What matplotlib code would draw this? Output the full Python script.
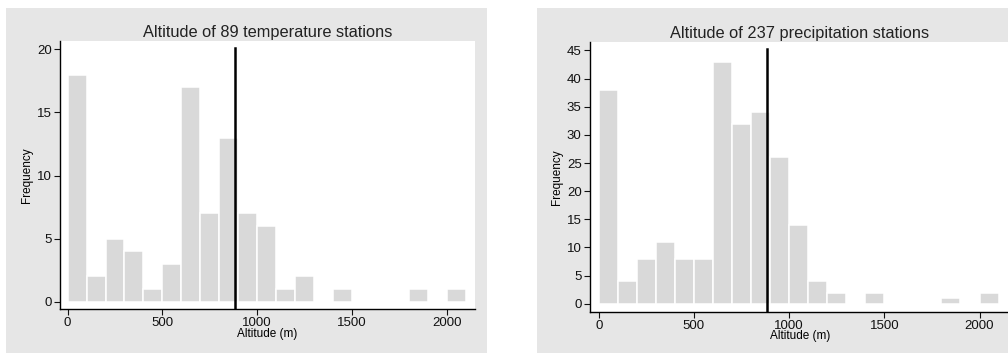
import matplotlib.pyplot as plt
from matplotlib.patches import Rectangle
import numpy as np

# bin left edges (100 m bins)
bin_edges = np.arange(0, 2100, 100)
temp_counts = [18, 2, 5, 4, 1, 3, 17, 7, 13, 7, 6, 1, 2, 0, 1, 0, 0, 0, 1, 0, 1]
prec_counts = [38, 4, 8, 11, 8, 8, 43, 32, 34, 26, 14, 4, 2, 0, 2, 0, 0, 0, 1, 0, 2]
mean_alt = 884
titles = ["Altitude of 89 temperature stations", "Altitude of 237 precipitation stations"]
yticks_l = [0, 5, 10, 15, 20]
yticks_r = [0, 5, 10, 15, 20, 25, 30, 35, 40, 45]
xticks = [0, 500, 1000, 1500, 2000]

plt.rcParams['font.family'] = ['Liberation Sans', 'DejaVu Sans']

W, H = 1008, 354
fig = plt.figure(figsize=(W / 100, H / 100), dpi=100)
fig.patch.set_facecolor('white')

# gray panel backgrounds (pixel coords -> figure fraction)
bg = '#e6e6e6'
for x0, x1 in [(6, 487), (537, 1030)]:
    fig.patches.append(Rectangle((x0 / W, 1 - 353 / H), (x1 - x0) / W, (353 - 8) / H,
                                 transform=fig.transFigure, facecolor=bg,
                                 edgecolor='none', zorder=-10))

def px_axes(l, t, r, b):
    return fig.add_axes([l / W, 1 - b / H, (r - l) / W, (b - t) / H])

ax1 = px_axes(60, 41, 475, 309)
ax2 = px_axes(590, 42, 1010, 311.5)

def draw(ax, counts, title, yticks, ylim, xlim):
    ax.bar(bin_edges, counts, width=100, align='edge', color='#d9d9d9',
           edgecolor='white', linewidth=1.1, zorder=2)
    ax.axvline(mean_alt, ymin=0, ymax=0.975, color='black', linewidth=1.8, zorder=3)
    ax.set_xlim(*xlim)
    ax.set_ylim(*ylim)
    ax.set_xticks(xticks)
    ax.set_yticks(yticks)
    ax.tick_params(direction='out', length=4, width=0.8, labelsize=9.5, pad=2, colors='#111111')
    for s in ['top', 'right']:
        ax.spines[s].set_visible(False)
    for s in ['left', 'bottom']:
        ax.spines[s].set_linewidth(1.0)
    ax.set_xlabel('Altitude (m)', fontsize=8.5, labelpad=-1)
    ax.set_ylabel('Frequency', fontsize=8.5, labelpad=3)
    ax.set_title(title, fontsize=11.8, pad=3, color='#222222')
    ax.set_facecolor('white')

draw(ax1, temp_counts, titles[0], yticks_l, (-0.58, 20.66), (-40, 2149))
draw(ax2, prec_counts, titles[1], yticks_r, (-1.37, 46.5), (-46, 2160))

fig.savefig('out.png', dpi=100)
